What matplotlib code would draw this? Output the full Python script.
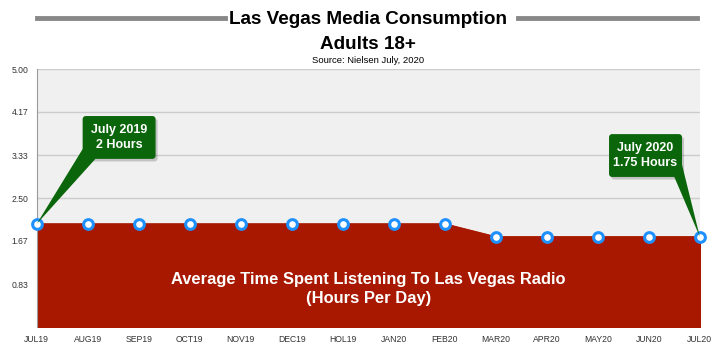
import numpy as np
import matplotlib
matplotlib.use("Agg")
import matplotlib.pyplot as plt
from matplotlib.patches import FancyBboxPatch, Polygon
from matplotlib.lines import Line2D

months = ["JUL19", "AUG19", "SEP19", "OCT19", "NOV19", "DEC19", "HOL19",
          "JAN20", "FEB20", "MAR20", "APR20", "MAY20", "JUN20", "JUL20"]
hours = [2, 2, 2, 2, 2, 2, 2, 2, 2, 1.75, 1.75, 1.75, 1.75, 1.75]
yticks = [0.83, 1.67, 2.50, 3.33, 4.17, 5.00]

plt.rcParams['font.family'] = ['Liberation Sans', 'DejaVu Sans']

fig = plt.figure(figsize=(7.2, 3.56), dpi=100)
ax = fig.add_axes([0.051, 0.081, 0.921, 0.725])
x = np.arange(len(months))

ax.set_facecolor("#f0f0f0")
ax.fill_between(x, 0, hours, color="#a81800", zorder=2)
ax.plot(x, hours, color="#a81800", lw=1, zorder=3)
ax.plot(x, hours, "o", ms=7, mfc="white", mec="#1e90ff", mew=2.2, zorder=5,
        clip_on=False)

ax.set_xlim(0, len(months) - 1)
ax.set_ylim(0, 5)
ax.set_xticks(x)
ax.set_xticklabels(months, fontsize=6.2, color="#333333")
ax.set_yticks(yticks)
ax.set_yticklabels(["%.2f" % v for v in yticks], fontsize=6.2, color="#333333")
ax.tick_params(length=0, pad=6)
ax.grid(axis="y", color="#cccccc", lw=1, zorder=1)
for s in ["top", "right", "bottom"]:
    ax.spines[s].set_visible(False)
ax.spines["left"].set_color("#999999")

ax.text(6.5, 0.74, "Average Time Spent Listening To Las Vegas Radio\n(Hours Per Day)",
        ha="center", va="center", color="white", fontsize=11.9, fontweight="bold",
        linespacing=1.3, zorder=6)

# callouts
green = "#0b660b"
def callout(box, tri, text):
    x0, y0, w, h = box
    ax.add_patch(FancyBboxPatch((x0 + 0.04, y0 - 0.05), w, h,
                                boxstyle="round,pad=0,rounding_size=0.06",
                                fc="#00000030", ec="none", zorder=6, clip_on=False))
    ax.add_patch(Polygon(tri, closed=True, fc=green, ec="none", zorder=7,
                         clip_on=False))
    ax.add_patch(FancyBboxPatch((x0, y0), w, h,
                                boxstyle="round,pad=0,rounding_size=0.06",
                                fc=green, ec="none", zorder=7, clip_on=False))
    ax.text(x0 + w / 2, y0 + h / 2, text, ha="center", va="center",
            color="white", fontsize=9, fontweight="bold", linespacing=1.35,
            zorder=8)

callout((0.9, 3.26, 1.43, 0.83), [(0, 2), (0.9, 3.45), (1.15, 3.26)],
        "July 2019\n2 Hours")
callout((11.22, 2.91, 1.43, 0.83), [(13, 1.75), (12.5, 2.91), (12.65, 3.15)],
        "July 2020\n1.75 Hours")

# title, centred over the plot area
cx = 0.051 + 0.921 / 2
fig.text(cx, 0.945, "Las Vegas Media Consumption", ha="center", va="center",
         fontsize=13.6, fontweight="bold")
fig.text(cx, 0.875, "Adults 18+", ha="center", va="center",
         fontsize=13.6, fontweight="bold")
fig.text(cx, 0.831, "Source: Nielsen July, 2020", ha="center", va="center",
         fontsize=6.8)
fig.add_artist(Line2D([0.051, 0.3125], [0.95, 0.95], color="#888888", lw=3.5))
fig.add_artist(Line2D([0.7194, 0.968], [0.95, 0.95], color="#888888", lw=3.5))

fig.savefig("out.png", dpi=100)
